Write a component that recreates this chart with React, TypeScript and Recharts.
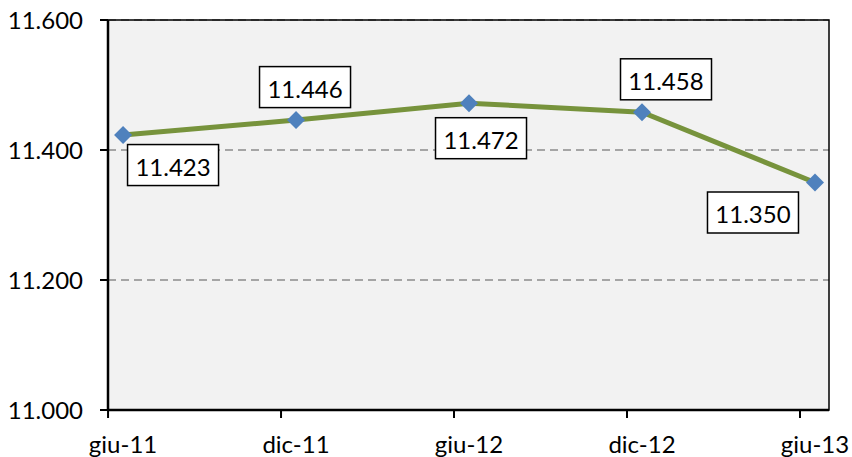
import React from 'react';
import {
  LineChart,
  Line,
  XAxis,
  YAxis,
  CartesianGrid,
  ReferenceArea,
  LabelList,
} from 'recharts';

// semesters (giugno / dicembre)
const periods = ['giu-11', 'dic-11', 'giu-12', 'dic-12', 'giu-13'];
const values = [11423, 11446, 11472, 11458, 11350];
const yTicks = [11000, 11200, 11400, 11600];

// where each value box sits relative to its point (px)
const labelOffsets = [
  { dx: 50, dy: 30 },
  { dx: 9, dy: -33 },
  { dx: 12, dy: 35 },
  { dx: 24, dy: -33 },
  { dx: -62, dy: 30 },
];

const data = periods.map((p, i) => ({ idx: i, period: p, value: values[i] }));

const FONT = 'Lato, "Open Sans", sans-serif';
const FONT_SIZE = 24;
const TICK_SHIFT = 15;

const fmtThousands = (v: number) => {
  const s = Math.round(v).toString();
  return s.replace(/\B(?=(\d{3})+(?!\d))/g, '.');
};

const Diamond = (props: any) => {
  const { cx, cy } = props;
  if (cx == null || cy == null) return null;
  const r = 9;
  return (
    <polygon
      points={`${cx},${cy - r} ${cx + r},${cy} ${cx},${cy + r} ${cx - r},${cy}`}
      fill="#4F81BD"
    />
  );
};

const XTick = (props: any) => {
  const { x, y, payload } = props;
  const tx = x - TICK_SHIFT;
  return (
    <g>
      <line x1={tx} y1={y} x2={tx} y2={y + 8} stroke="#000" strokeWidth={2} />
      <text x={x} y={y + 43} textAnchor="middle" fontFamily={FONT} fontSize={FONT_SIZE} fill="#000">
        {periods[payload.value]}
      </text>
    </g>
  );
};

const ValueBox = (props: any) => {
  const { x, y, index, value } = props;
  const off = labelOffsets[index];
  const cx = x + off.dx;
  const cy = y + off.dy;
  const w = 91;
  const h = 41;
  return (
    <g>
      <rect x={cx - w / 2} y={cy - h / 2} width={w} height={h} fill="#fff" stroke="#000" strokeWidth={1.5} />
      <text
        x={cx}
        y={cy + 1}
        textAnchor="middle"
        dominantBaseline="central"
        fontFamily={FONT}
        fontSize={FONT_SIZE}
        fill="#000"
      >
        {fmtThousands(value)}
      </text>
    </g>
  );
};

export default function App() {
  return (
    <div style={{ position: 'absolute', left: 0, top: 0, background: '#fff' }}>
      <LineChart
        width={852}
        height={457}
        data={data}
        margin={{ top: 20, right: 23, left: 0, bottom: 0 }}
      >
        <CartesianGrid
          vertical={false}
          fill="#f2f2f2"
          stroke="#8c8c8c"
          strokeWidth={1.5}
          strokeDasharray="8 5"
        />
        <ReferenceArea
          y1={11000}
          y2={11600}
          fill="none"
          stroke="#000"
          strokeWidth={1.5}
          ifOverflow="visible"
        />
        <XAxis
          dataKey="idx"
          type="number"
          domain={[-0.087, 4.081]}
          ticks={[0, 1, 2, 3, 4]}
          allowDataOverflow
          height={47}
          axisLine={{ stroke: '#000', strokeWidth: 2.5 }}
          tickLine={false}
          tickSize={0}
          tickMargin={0}
          tick={<XTick />}
          interval={0}
        />
        <YAxis
          width={108}
          domain={[11000, 11600]}
          ticks={yTicks}
          allowDataOverflow
          axisLine={{ stroke: '#000', strokeWidth: 2.5 }}
          tickLine={{ stroke: '#000', strokeWidth: 2 }}
          tickSize={8}
          tickMargin={17}
          tickFormatter={fmtThousands}
          tick={{ fill: '#000', fontFamily: FONT, fontSize: FONT_SIZE }}
        />
        <Line
          type="linear"
          dataKey="value"
          stroke="#77933C"
          strokeWidth={5}
          dot={<Diamond />}
          activeDot={false}
          isAnimationActive={false}
        >
          <LabelList dataKey="value" content={<ValueBox />} />
        </Line>
      </LineChart>
    </div>
  );
}
